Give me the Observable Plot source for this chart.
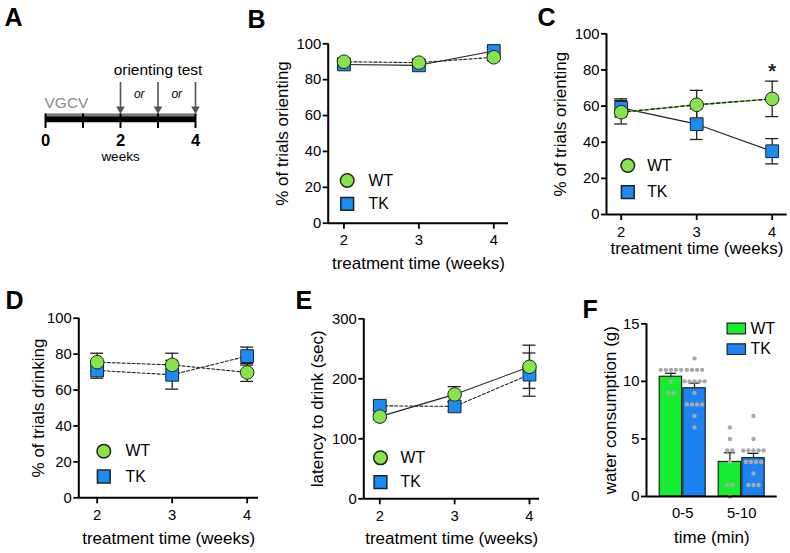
<!DOCTYPE html>
<html><head><meta charset="utf-8">
<script src="https://cdn.jsdelivr.net/npm/d3@7"></script>
<script src="https://cdn.jsdelivr.net/npm/@observablehq/plot@0.6"></script>
<style>
body{margin:0;background:#fff;}
#fig{position:relative;width:790px;height:553px;overflow:hidden;background:#fff;}
#fig svg{position:absolute;}
</style></head><body><div id="fig"></div>
<script>
// ---------------- data ----------------
const weeks = [2, 3, 4];
const B_wt = [90, 89.5, 92.5];
const B_wtErr = [2, 2, 2];
const B_tk = [88.5, 88, 96];
const B_tkErr = [2, 2, 2];
const C_wt = [56.6, 60.7, 64.0];
const C_wtErr = [6.5, 8, 9.8];
const C_tk = [59, 50, 35];
const C_tkErr = [5, 8.5, 7];
const C_sigWeeks = [4];
const D_wt = [75.5, 74, 69.8];
const D_wtErr = [5, 6.5, 5];
const D_tk = [70.9, 68.5, 78.9];
const D_tkErr = [4.3, 8, 5];
const E_wt = [137, 174, 220];
const E_wtErr = [5, 13, 36];
const E_tk = [155, 154, 207];
const E_tkErr = [8, 8, 36];
const F_groups = ["0-5", "5-10"];
const F_wtMean = [10.4, 3.0];
const F_wtSem = [0.3, 0.8];
const F_tkMean = [9.4, 3.33];
const F_tkSem = [0.45, 0.42];
const F_wtPoints = [[11, 11, 11, 11, 11, 10, 9, 9], [6, 5, 4, 4, 3, 1, 1, 0]];
const F_tkPoints = [[12, 11, 11, 11, 11, 10, 10, 10, 10, 10, 9, 8, 8, 8, 8, 7, 6], [7, 5, 4, 4, 4, 4, 4, 3, 3, 3, 3, 2, 1, 1, 1]];
const A_allWeeks = [0, 1, 2, 3, 4];
const A_labelWeeks = [0, 2, 4];
const A_testWeeks = [2, 3, 4];
const A_orWeeks = [2.5, 3.5];
const pctTicks = [0, 20, 40, 60, 80, 100];
const E_yTicks = [0, 100, 200, 300];
const F_yTicks = [0, 5, 10, 15];

// ---------------- style ----------------
const FONT = "Liberation Sans, Arial, Helvetica, sans-serif";
const INK = "#222";
const GREEN = "#88e44c";
const BLUE = "#1a8cf5";
const F_GREEN = "#14ee2e";
const F_BLUE = "#1b83f2";
const TICK_FS = 14.8, TITLE_FS = 17, LEG_FS = 15.8;
const fig = document.getElementById("fig");

function place(svg, left, top) {
  svg.style.left = left + "px";
  svg.style.top = top + "px";
  fig.appendChild(svg);
}
function rows(means, errs) {
  return weeks.map((w, i) => ({week: w, mean: means[i], lo: means[i] - errs[i], hi: means[i] + errs[i]}));
}
function errorBars(d) {
  return [
    Plot.ruleX(d, {x: "week", y1: "lo", y2: "hi", stroke: INK, strokeWidth: 1.3}),
    Plot.ruleY(d, {x1: "week", x2: "week", y: "hi", insetLeft: -6.5, insetRight: -6.5, stroke: INK, strokeWidth: 1.3}),
    Plot.ruleY(d, {x1: "week", x2: "week", y: "lo", insetLeft: -6.5, insetRight: -6.5, stroke: INK, strokeWidth: 1.3})
  ];
}
function lineMarks(d, style) {
  if (style === "solid") return [Plot.line(d, {x: "week", y: "mean", stroke: INK, strokeWidth: 1.1})];
  if (style === "greendash") return [
    Plot.line(d, {x: "week", y: "mean", stroke: "#6fcf3f", strokeWidth: 1.4}),
    Plot.line(d, {x: "week", y: "mean", stroke: INK, strokeWidth: 1.4, strokeDasharray: "3,3"})
  ];
  return [Plot.line(d, {x: "week", y: "mean", stroke: INK, strokeWidth: 1.1, strokeDasharray: "3,2"})];
}
const txt = (o) => ({textAnchor: "middle", lineAnchor: "middle", fill: "#000", ...o});

function linePanel(c) {
  const wt = rows(c.wt, c.wtErr), tk = rows(c.tk, c.tkErr);
  const marks = [
    ...errorBars(tk), ...errorBars(wt),
    ...lineMarks(tk, c.tkLine), ...lineMarks(wt, c.wtLine),
    Plot.dot(tk, {x: "week", y: "mean", symbol: "square", r: 7.2, fill: BLUE, stroke: INK, strokeWidth: 1}),
    Plot.dot(wt, {x: "week", y: "mean", symbol: "circle", r: 6.8, fill: GREEN, stroke: INK, strokeWidth: 1}),
    Plot.ruleX([c.xDomain[0]], {stroke: "#000", strokeWidth: 2}),
    Plot.ruleY([c.yDomain[0]], {stroke: "#000", strokeWidth: 2}),
    Plot.axisY({ticks: c.yTicks, tickSize: 5, tickPadding: 2, fontSize: TICK_FS, label: null, strokeWidth: 1.8, stroke: "#000"}),
    Plot.axisX({ticks: weeks, tickSize: 6, tickPadding: 5.5, fontSize: TICK_FS, label: null, strokeWidth: 1.8, stroke: "#000", tickFormat: d => String(d)}),
    Plot.text([c.xLabel], txt({text: d => d, frameAnchor: "bottom", dy: c.xLabelDy, fontSize: TITLE_FS})),
    Plot.text([c.yLabel], txt({text: d => d, frameAnchor: "left", rotate: -90, dx: c.yLabelDx, fontSize: TITLE_FS})),
    Plot.dot([0], {frameAnchor: "bottom-left", dx: c.legDx, dy: c.legDy[0], symbol: "circle", r: 6.8, fill: GREEN, stroke: INK}),
    Plot.dot([0], {frameAnchor: "bottom-left", dx: c.legDx, dy: c.legDy[1], symbol: "square", r: 7.2, fill: BLUE, stroke: INK}),
    Plot.text(["WT"], txt({text: d => d, frameAnchor: "bottom-left", dx: c.legTx, dy: c.legDy[0], textAnchor: "start", fontSize: LEG_FS})),
    Plot.text(["TK"], txt({text: d => d, frameAnchor: "bottom-left", dx: c.legTx, dy: c.legDy[1], textAnchor: "start", fontSize: LEG_FS})),
    Plot.text([c.letter], txt({text: d => d, frameAnchor: "top-left", dx: c.letDx, dy: c.letDy, textAnchor: "start", lineAnchor: "bottom", fontSize: 25, fontWeight: "bold"})),
    ...(c.extra || [])
  ];
  const svg = Plot.plot({
    width: c.w, height: c.h,
    marginLeft: c.m[0], marginTop: c.m[1], marginRight: c.m[2], marginBottom: c.m[3],
    x: {type: "linear", domain: c.xDomain},
    y: {type: "linear", domain: c.yDomain},
    style: {fontFamily: FONT, background: "transparent", overflow: "visible"},
    marks
  });
  place(svg, c.left, c.top);
}

// ---------------- Panel A: timeline ----------------
{
  const svg = Plot.plot({
    width: 225, height: 180,
    marginLeft: 45, marginRight: 30, marginTop: 55, marginBottom: 0,
    x: {type: "linear", domain: [0, 4], axis: null},
    y: {type: "linear", domain: [-1, 1], axis: null},
    style: {fontFamily: FONT, background: "transparent", overflow: "visible"},
    marks: [
      Plot.ruleY([0], {x1: A_allWeeks[0], x2: A_allWeeks[A_allWeeks.length - 1], stroke: "#000", strokeWidth: 8.4}),
      Plot.ruleY([0], {x1: A_allWeeks[0], x2: A_allWeeks[A_allWeeks.length - 1], stroke: "#7a7a7a", strokeWidth: 2.8, dy: -2.8}),
      Plot.ruleX(A_allWeeks, {x: d => d, y1: 0, y2: 0, insetTop: -4, insetBottom: -10.5, stroke: "#000", strokeWidth: 2}),
      Plot.ruleX(A_testWeeks, {x: d => d, y1: 0, y2: 0, insetTop: -35.5, insetBottom: 9, stroke: "#555", strokeWidth: 1.6}),
      Plot.dot(A_testWeeks, {x: d => d, y: 0, dy: -9, symbol: "triangle", rotate: 180, r: 3.2, fill: "#555"}),
      Plot.text(A_labelWeeks, txt({x: d => d, y: 0, dy: 22.5, text: d => String(d), fontSize: 16.5, fontWeight: "bold"})),
      Plot.text(["weeks"], txt({x: A_labelWeeks[1], y: 0, dy: 38.5, text: d => d, fontSize: 13.5})),
      Plot.text(["VGCV"], txt({x: A_allWeeks[0], y: 0, dy: -14.5, dx: -1, text: d => d, textAnchor: "start", fontSize: 15.5, fill: "#8a8a8a"})),
      Plot.text(["orienting test"], txt({x: A_testWeeks[1], y: 0, dy: -47.5, text: d => d, fontSize: 15.5})),
      Plot.text(A_orWeeks, txt({x: d => d, y: 0, dy: -24, text: () => "or", fontSize: 12, fontStyle: "italic"})),
      Plot.text(["A"], txt({text: d => d, frameAnchor: "top-left", dx: -41, dy: -30, textAnchor: "start", lineAnchor: "bottom", fontSize: 25, fontWeight: "bold"}))
    ]
  });
  place(svg, 0, 0);
}

// ---------------- Panel B ----------------
linePanel({
  left: 230, top: 0, w: 280, h: 275, m: [97.7, 43.3, 2, 52.3],
  xDomain: [1.79, 4.196], yDomain: [0, 100], yTicks: pctTicks,
  wt: B_wt, wtErr: B_wtErr, tk: B_tk, tkErr: B_tkErr, wtLine: "dash", tkLine: "solid",
  xLabel: "treatment time (weeks)", xLabelDy: 40, yLabel: "% of trials orienting", yLabelDx: -46,
  legDx: 19, legDy: [-42.7, -19.4], legTx: 40.3, letter: "B", letDx: -80.7, letDy: -16.3
});

// ---------------- Panel C ----------------
{
  const wtC = rows(C_wt, C_wtErr);
  const sig = C_sigWeeks.map(w => wtC.find(d => d.week === w));
  linePanel({
    left: 515, top: 0, w: 275, h: 275, m: [91, 33.3, 3.3, 61],
    xDomain: [1.805, 4.199], yDomain: [0, 100], yTicks: pctTicks,
    wt: C_wt, wtErr: C_wtErr, tk: C_tk, tkErr: C_tkErr, wtLine: "greendash", tkLine: "solid",
    xLabel: "treatment time (weeks)", xLabelDy: 34.5, yLabel: "% of trials orienting", yLabelDx: -46,
    legDx: 21.3, legDy: [-49, -22.3], legTx: 40.7, letter: "C", letDx: -69, letDy: -8.3,
    extra: [Plot.text(sig, txt({x: "week", y: "hi", dy: -10, text: () => "*", fontSize: 20, fontWeight: "bold", fill: "#222"}))]
  });
}

// ---------------- Panel D ----------------
linePanel({
  left: 0, top: 280, w: 265, h: 273, m: [78.3, 37.7, 7, 55.7],
  xDomain: [1.755, 4.151], yDomain: [0, 100], yTicks: pctTicks,
  wt: D_wt, wtErr: D_wtErr, tk: D_tk, tkErr: D_tkErr, wtLine: "dash", tkLine: "dash",
  xLabel: "treatment time (weeks)", xLabelDy: 41, yLabel: "% of trials drinking", yLabelDx: -40,
  legDx: 25, legDy: [-46.6, -21.3], legTx: 46.7, letter: "D", letDx: -73.3, letDy: -9.7
});

// ---------------- Panel E ----------------
linePanel({
  left: 270, top: 280, w: 270, h: 273, m: [93.3, 38.3, 1, 54.7],
  xDomain: [1.786, 4.134], yDomain: [0, 300], yTicks: E_yTicks,
  wt: E_wt, wtErr: E_wtErr, tk: E_tk, tkErr: E_tkErr, wtLine: "solid", tkLine: "dash",
  xLabel: "treatment time (weeks)", xLabelDy: 40, yLabel: "latency to drink (sec)", yLabelDx: -46.6,
  legDx: 16.7, legDy: [-41, -16.6], legTx: 36.7, letter: "E", letDx: -68.3, letDy: -10.3
});

// ---------------- Panel F ----------------
{
  const barW = 0.4, dotStep = 0.086;
  const series = [
    {name: "WT", s: 0, means: F_wtMean, sems: F_wtSem, pts: F_wtPoints, fill: F_GREEN},
    {name: "TK", s: 1, means: F_tkMean, sems: F_tkSem, pts: F_tkPoints, fill: F_BLUE}
  ];
  const bars = [], points = [];
  for (const sr of series) {
    F_groups.forEach((g, gi) => {
      const x1 = gi + (sr.s - 1) * barW, x2 = gi + sr.s * barW, xc = (x1 + x2) / 2;
      bars.push({group: g, series: sr.name, x1, x2, xc, mean: sr.means[gi], hi: sr.means[gi] + sr.sems[gi], fill: sr.fill});
      const byVal = d3.group(sr.pts[gi], v => v);
      for (const [v, arr] of byVal) arr.forEach((_, k) => points.push({x: xc + (k - (arr.length - 1) / 2) * dotStep, v}));
    });
  }
  const rectSym = {draw(ctx) { ctx.rect(-9.2, -5.3, 18.4, 10.6); }};
  const svg = Plot.plot({
    width: 245, height: 273,
    marginLeft: 101, marginTop: 43.3, marginRight: 13.3, marginBottom: 57,
    x: {type: "linear", domain: [-0.614, 1.602]},
    y: {type: "linear", domain: [0, 15]},
    style: {fontFamily: FONT, background: "transparent", overflow: "visible"},
    marks: [
      Plot.rectY(bars, {x1: "x1", x2: "x2", y: "mean", fill: "fill", stroke: INK, strokeWidth: 1.2, insetLeft: 0.6, insetRight: 0.6}),
      Plot.ruleX(bars, {x: "xc", y1: "mean", y2: "hi", stroke: INK, strokeWidth: 1.3}),
      Plot.ruleY(bars, {x1: "xc", x2: "xc", y: "hi", insetLeft: -5.5, insetRight: -5.5, stroke: INK, strokeWidth: 1.3}),
      Plot.dot(points, {x: "x", y: "v", r: 2.2, fill: "#a9a9a9"}),
      Plot.ruleX([-0.614], {stroke: "#000", strokeWidth: 2}),
      Plot.ruleY([0], {stroke: "#000", strokeWidth: 2}),
      Plot.axisY({ticks: F_yTicks, tickSize: 5, tickPadding: 2, fontSize: TICK_FS, label: null, strokeWidth: 1.8, stroke: "#000"}),
      Plot.axisX({ticks: [0, 1], tickSize: 0, tickPadding: 10.5, fontSize: TICK_FS, label: null, tickFormat: i => F_groups[i]}),
      Plot.text(["time (min)"], txt({text: d => d, frameAnchor: "bottom", dy: 40.7, fontSize: TITLE_FS})),
      Plot.text(["water consumption (g)"], txt({text: d => d, frameAnchor: "left", rotate: -90, dx: -36, fontSize: TITLE_FS})),
      Plot.dot([0], {frameAnchor: "top-left", dx: 89.8, dy: 4.7, symbol: rectSym, fill: F_GREEN, stroke: INK, strokeWidth: 1.2}),
      Plot.dot([0], {frameAnchor: "top-left", dx: 89.8, dy: 25.4, symbol: rectSym, fill: F_BLUE, stroke: INK, strokeWidth: 1.2}),
      Plot.text(["WT"], txt({text: d => d, frameAnchor: "top-left", dx: 104, dy: 4.7, textAnchor: "start", fontSize: LEG_FS})),
      Plot.text(["TK"], txt({text: d => d, frameAnchor: "top-left", dx: 104, dy: 25.4, textAnchor: "start", fontSize: LEG_FS})),
      Plot.text(["F"], txt({text: d => d, frameAnchor: "top-left", dx: -64, dy: -6.3, textAnchor: "start", lineAnchor: "bottom", fontSize: 25, fontWeight: "bold"}))
    ]
  });
  place(svg, 545, 280);
}
</script></body></html>
